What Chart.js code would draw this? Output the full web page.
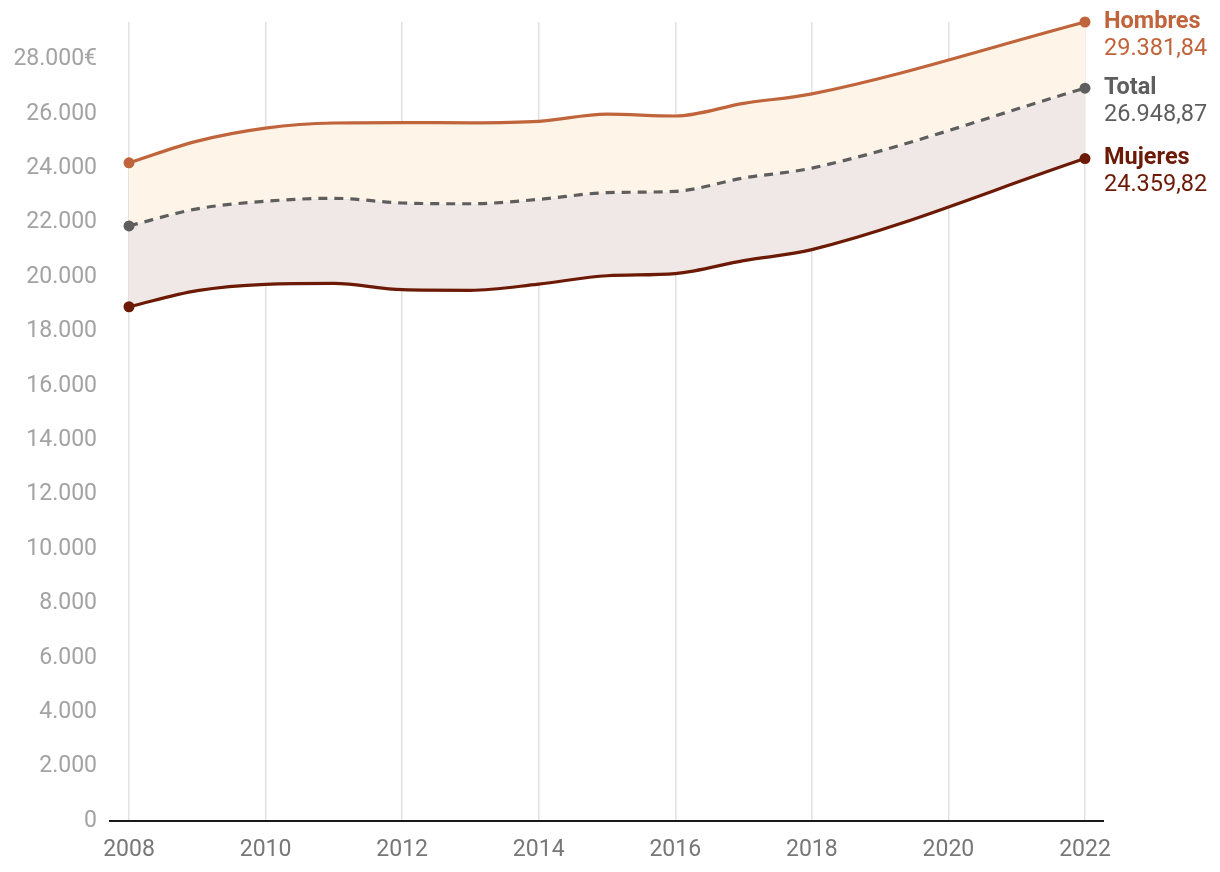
<!DOCTYPE html>
<html lang="es">
<head>
<meta charset="utf-8">
<title>Salario medio anual por sexo</title>
<script src="https://cdn.jsdelivr.net/npm/chart.js@4"></script>
<style>
  html, body { margin: 0; padding: 0; background: #fff; }
  #wrap { width: 1220px; height: 872px; position: relative; }
</style>
</head>
<body>
<div id="wrap"><canvas id="chart"></canvas></div>
<script>
"use strict";

/* ============================================================
   DATA
============================================================ */
const years = [2008, 2009, 2010, 2011, 2012, 2013, 2014, 2015, 2016, 2017, 2018, 2022];
const hombres = [24203.33, 25001.05, 25479.74, 25667.89, 25682.05, 25675.17, 25727.24, 25992.76, 25924.43, 26391.84, 26738.19, 29381.84];
const total   = [21883.42, 22511.47, 22790.20, 22899.35, 22726.44, 22697.86, 22858.17, 23106.30, 23156.34, 23646.50, 24009.12, 26948.87];
const mujeres = [18910.62, 19502.02, 19735.22, 19767.59, 19537.33, 19514.58, 19744.82, 20051.58, 20131.41, 20607.85, 21011.89, 24359.82];
const seriesNames = ["Hombres", "Total", "Mujeres"];
const yTicks = [0, 2000, 4000, 6000, 8000, 10000, 12000, 14000, 16000, 18000, 20000, 22000, 24000, 26000, 28000];
const xTicks = [2008, 2010, 2012, 2014, 2016, 2018, 2020, 2022];

const COLORS = {
  hombres: "#c0643b",
  total: "#5e5e5e",
  mujeres: "#6c1a05",
  fillTop: "#fef5e8",
  fillBottom: "#efe8e6"
};

/* ============================================================
   HELPERS
============================================================ */
function fmtThousands(n) {
  const s = Math.round(n).toString();
  return s.replace(/\B(?=(\d{3})+(?!\d))/g, ".");
}

function fmtDecimal(n) {
  const parts = n.toFixed(2).split(".");
  return parts[0].replace(/\B(?=(\d{3})+(?!\d))/g, ".") + "," + parts[1];
}

function toPoints(values) {
  return values.map((v, i) => ({ x: years[i], y: v }));
}

const endPointRadius = ctx => (ctx.dataIndex === 0 || ctx.dataIndex === years.length - 1) ? 5.5 : 0;

/* ============================================================
   PLUGINS
============================================================ */
// black baseline slightly wider than the plot area
const baselinePlugin = {
  id: "baseline",
  afterDraw(chart) {
    const { ctx, chartArea } = chart;
    const y = chart.scales.y.getPixelForValue(0);
    ctx.save();
    ctx.strokeStyle = "#1a1a1a";
    ctx.lineWidth = 2;
    ctx.beginPath();
    ctx.moveTo(chartArea.left - 20, y);
    ctx.lineTo(chartArea.right + 19, y);
    ctx.stroke();
    ctx.restore();
  }
};

// series name + last value at the right end of each line
const endLabelPlugin = {
  id: "endLabels",
  afterDatasetsDraw(chart) {
    const { ctx, chartArea } = chart;
    ctx.save();
    ctx.textAlign = "left";
    ctx.textBaseline = "middle";
    chart.data.datasets.forEach((ds, i) => {
      const meta = chart.getDatasetMeta(i);
      const last = meta.data[meta.data.length - 1];
      const x = chartArea.right + 19;
      ctx.fillStyle = ds.borderColor;
      ctx.font = "bold 23.5px Roboto";
      ctx.fillText(seriesNames[i], x, last.y);
      ctx.font = "23.5px Roboto";
      ctx.fillText(fmtDecimal(ds.data[ds.data.length - 1].y), x, last.y + 27);
    });
    ctx.restore();
  }
};

/* ============================================================
   CHART
============================================================ */
Chart.defaults.font.family = "Roboto";
Chart.defaults.font.size = 23;

const lineStyle = {
  borderWidth: 3.2,
  cubicInterpolationMode: "monotone",
  pointRadius: endPointRadius,
  pointHoverRadius: endPointRadius,
  pointBorderWidth: 0,
  clip: false
};

new Chart(document.getElementById("chart"), {
  type: "line",
  data: {
    datasets: [
      {
        ...lineStyle,
        label: seriesNames[0],
        data: toPoints(hombres),
        borderColor: COLORS.hombres,
        backgroundColor: COLORS.fillTop,
        pointBackgroundColor: COLORS.hombres,
        fill: "+1"
      },
      {
        ...lineStyle,
        label: seriesNames[1],
        data: toPoints(total),
        borderColor: COLORS.total,
        backgroundColor: COLORS.fillBottom,
        pointBackgroundColor: COLORS.total,
        borderDash: [9, 7],
        fill: "+1"
      },
      {
        ...lineStyle,
        label: seriesNames[2],
        data: toPoints(mujeres),
        borderColor: COLORS.mujeres,
        backgroundColor: "transparent",
        pointBackgroundColor: COLORS.mujeres,
        fill: false
      }
    ]
  },
  options: {
    responsive: true,
    maintainAspectRatio: false,
    animation: false,
    layout: { padding: { left: 11, right: 135, top: 22, bottom: 9 } },
    plugins: {
      legend: { display: false },
      tooltip: { enabled: false },
      filler: { propagate: false, drawTime: "beforeDatasetsDraw" }
    },
    scales: {
      x: {
        type: "linear",
        min: 2008,
        max: 2022,
        afterBuildTicks: scale => { scale.ticks = xTicks.map(v => ({ value: v })); },
        afterFit: scale => { scale.height = 42; },
        grid: { color: "#e2e2e2", lineWidth: 1.5, drawTicks: false },
        border: { display: false },
        ticks: {
          color: "#777777",
          padding: 15,
          callback: v => String(v)
        }
      },
      y: {
        min: 0,
        max: 29381.84,
        afterBuildTicks: scale => { scale.ticks = yTicks.map(v => ({ value: v })); },
        afterFit: scale => {
          scale.width = 118;
          scale.paddingTop = 0;
          scale.paddingBottom = 0;
        },
        grid: { display: false, drawTicks: false },
        border: { display: false },
        ticks: {
          color: "#a3a3a3",
          padding: 32,
          callback: v => v === 28000 ? fmtThousands(v) + "€" : fmtThousands(v)
        }
      }
    }
  },
  plugins: [baselinePlugin, endLabelPlugin]
});
</script>
</body>
</html>
